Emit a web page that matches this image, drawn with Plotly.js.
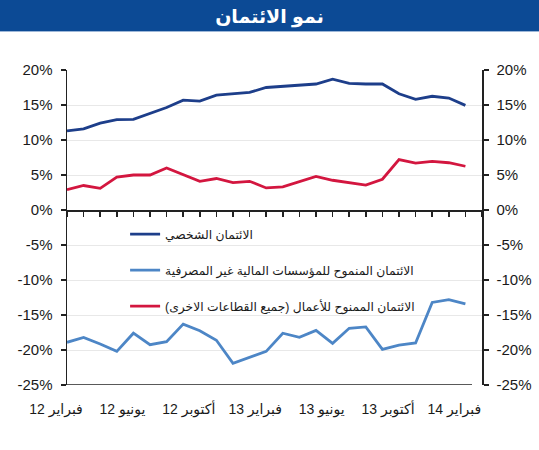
<!DOCTYPE html>
<html>
<head>
<meta charset="utf-8">
<script src="https://cdn.plot.ly/plotly-3.0.1.min.js"></script>
<style>
  html, body { margin: 0; padding: 0; background: #ffffff; }
  #chart { width: 539px; height: 450px; }
</style>
</head>
<body>
<div id="chart"></div>
<script>
// Monthly observations, February 2012 to February 2014
const months = [
  'فبراير 12', 'مارس 12', 'أبريل 12', 'مايو 12', 'يونيو 12', 'يوليو 12', 'أغسطس 12',
  'سبتمبر 12', 'أكتوبر 12', 'نوفمبر 12', 'ديسمبر 12', 'يناير 13', 'فبراير 13',
  'مارس 13', 'أبريل 13', 'مايو 13', 'يونيو 13', 'يوليو 13', 'أغسطس 13',
  'سبتمبر 13', 'أكتوبر 13', 'نوفمبر 13', 'ديسمبر 13', 'يناير 14', 'فبراير 14'
];

// Year-on-year growth, %
const personalCredit = [
  11.3, 11.6, 12.4, 12.9, 12.95, 13.75, 14.65, 15.7, 15.55, 16.4, 16.55, 16.8, 17.5,
  17.7, 17.9, 18.0, 18.7, 18.1, 18.0, 18.0, 16.6, 15.8, 16.25, 16.0, 14.95
];
const nonBankCredit = [
  -18.9, -18.2, -19.15, -20.2, -17.6, -19.25, -18.8, -16.3, -17.25, -18.6, -21.9, -21.05, -20.2,
  -17.6, -18.2, -17.2, -19.05, -16.9, -16.7, -19.9, -19.3, -19.0, -13.2, -12.8, -13.4
];
const businessCredit = [
  2.9, 3.5, 3.1, 4.7, 5.0, 5.0, 6.0, 5.05, 4.1, 4.5, 3.9, 4.1, 3.15,
  3.3, 4.0, 4.8, 4.25, 3.9, 3.55, 4.4, 7.2, 6.7, 6.95, 6.75, 6.25
];

const seriesNames = [
  'الائتمان الشخصي',
  'الائتمان المنموح للمؤسسات المالية غير المصرفية',
  'الائتمان الممنوح للأعمال (جميع القطاعات الاخرى)'
];
const chartTitle = 'نمو الائتمان';

const yTickValues = [-25, -20, -15, -10, -5, 0, 5, 10, 15, 20];
const yTickLabels = ['-25%', '-20%', '-15%', '-10%', '-5%', '0%', '5%', '10%', '15%', '20%'];

// Right-to-left embedding so Arabic labels read correctly inside SVG text
const rtl = s => '\u202B' + s + '\u202C';

const xIdx = months.map((m, i) => i);
const labelIdx = xIdx.filter(i => i % 4 === 0);
const labelText = labelIdx.map(i => rtl(months[i]));

const colors = { personal: '#1d3e8a', nonBank: '#4d86c6', business: '#d3163f' };
const font = 'Arial, "Liberation Sans", "DejaVu Sans", sans-serif';

// The business series sits on the overlaid x2/y2 pair (same ranges), which
// carries the month ticks on the 0% line and the right-hand percentage axis.
const traces = [
  { x: xIdx, y: personalCredit, name: rtl(seriesNames[0]), legendgroup: 'a',
    type: 'scatter', mode: 'lines', line: { color: colors.personal, width: 2.8 } },
  { x: xIdx, y: nonBankCredit, name: rtl(seriesNames[1]), legendgroup: 'b',
    type: 'scatter', mode: 'lines', line: { color: colors.nonBank, width: 2.8 } },
  { x: xIdx, y: businessCredit, name: rtl(seriesNames[2]), legendgroup: 'c',
    xaxis: 'x2', yaxis: 'y2',
    type: 'scatter', mode: 'lines', line: { color: colors.business, width: 2.8 } }
];

const yMin = -25, yMax = 20;
const yAxisCommon = {
  range: [yMin, yMax],
  tickmode: 'array', tickvals: yTickValues, ticktext: yTickLabels,
  showline: true, linecolor: '#222', linewidth: 1.5,
  ticks: 'outside', ticklen: 5, tickcolor: '#222', tickwidth: 1.5,
  ticklabelstandoff: 5,
  tickfont: { family: font, size: 15, color: '#1a1a1a' },
  zeroline: false, fixedrange: true
};

const layout = {
  width: 539, height: 450,
  margin: { l: 67, r: 57, t: 70, b: 65 },
  paper_bgcolor: '#ffffff', plot_bgcolor: '#ffffff',
  showlegend: true,
  title: {
    text: '<b>' + rtl(chartTitle) + '</b>',
    x: 0.5, xref: 'container', xanchor: 'center',
    y: 1 - 16.5 / 450, yref: 'container', yanchor: 'middle',
    font: { family: font, size: 19, color: '#ffffff' }
  },
  legend: {
    x: 0.14, xanchor: 'left', y: 0.525, yanchor: 'top',
    bgcolor: 'rgba(0,0,0,0)', borderwidth: 0,
    traceorder: 'grouped', tracegroupgap: 17,
    font: { family: font, size: 12.3, color: '#1a1a1a' }
  },
  xaxis: {
    range: [0, 25],
    tickmode: 'array', tickvals: labelIdx, ticktext: labelText,
    ticks: '', showline: false, showgrid: false, zeroline: false,
    ticklabelstandoff: 14, ticklabelshift: -11,
    tickfont: { family: font, size: 14, color: '#1a1a1a' },
    fixedrange: true
  },
  // Axis drawn along the 0% line, one tick per month
  xaxis2: {
    overlaying: 'x', matches: 'x', anchor: 'free',
    position: (0 - yMin) / (yMax - yMin),
    tickmode: 'linear', tick0: 0, dtick: 1,
    showline: true, linecolor: '#222', linewidth: 1.5,
    ticks: 'outside', ticklen: 5, tickcolor: '#222', tickwidth: 1.5,
    showticklabels: false, showgrid: false, zeroline: false, fixedrange: true
  },
  yaxis: Object.assign({}, yAxisCommon, {
    side: 'left', showgrid: true, gridcolor: '#e8e8e8', gridwidth: 1
  }),
  yaxis2: Object.assign({}, yAxisCommon, {
    overlaying: 'y', matches: 'y', side: 'right', anchor: 'free', position: 1,
    showgrid: false
  }),
  shapes: [
    // header band
    { type: 'rect', xref: 'paper', yref: 'paper', layer: 'below',
      x0: -67 / 415, x1: 472 / 415, y0: (385 - 31) / 315, y1: 385 / 315,
      fillcolor: '#0c4a95', line: { width: 0 } },
    { type: 'line', xref: 'paper', yref: 'paper',
      x0: -67 / 415, x1: 472 / 415, y0: (385 - 31.5) / 315, y1: (385 - 31.5) / 315,
      line: { color: '#9db7d8', width: 1 } },
    // base line at the bottom of the plot
    { type: 'line', xref: 'paper', yref: 'y', x0: 0, x1: 0.976, y0: yMin, y1: yMin,
      line: { color: '#222', width: 1.5 } }
  ]
};

Plotly.newPlot('chart', traces, layout, { staticPlot: true, displayModeBar: false });
</script>
</body>
</html>
